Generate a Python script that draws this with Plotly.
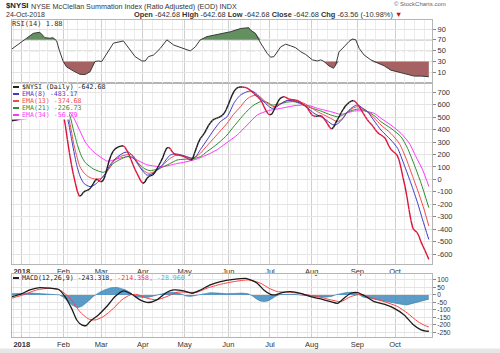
import pandas as pd
import plotly.graph_objects as go

# ---------------- data ----------------
HOLIDAYS = ["2017-12-25", "2018-01-01", "2018-01-15", "2018-02-19", "2018-03-30",
            "2018-05-28", "2018-07-04", "2018-09-03"]
START, END = "2017-12-22", "2018-10-24"

# $NYSI daily close, one value per trading day
PRICE = [
    470, 474, 478, 482, 487,
    492, 498, 504, 510, 516, 522, 528, 534, 540, 545, 550, 554, 558, 561, 564, 567, 570, 568, 562, 552, 540,
    525, 430, 320, 215, 120, 40, -30, -95, -135, -128, -105, -92, -88, -80, -62, -35, -8, 2, -12,
    -20, -8, 30, 90, 150, 195, 225, 245, 256, 263, 268, 271, 258, 232, 198, 160, 120, 82, 50, 18, -15,
    -32, -22, 8, 24, 30, 36, 55, 82, 112, 142, 175, 218, 252, 258, 242, 218, 202, 198, 196, 192, 188,
    182, 174, 164, 156, 162, 210, 255, 298, 330, 350, 372, 402, 432, 455, 474, 484, 490, 496, 505, 515, 532, 562,
    600, 640, 680, 710, 730, 740, 743, 743, 741, 738, 730, 718, 705, 690, 675, 660, 645, 620, 585, 553, 528,
    518, 526, 556, 590, 625, 650, 660, 665, 660, 650, 644, 641, 640, 637, 633, 624, 612, 600, 588, 571, 545,
    520, 510, 507, 509, 514, 510, 492, 470, 446, 420, 405, 418, 450, 480, 510, 540, 566, 590, 606, 620, 630, 634, 625,
    605, 585, 558, 530, 505, 480, 460, 444, 424, 400, 380, 366, 357, 345, 332, 300, 265, 240, 225,
    212, 195, 158, 90, 15, -55, -140, -240, -330, -395, -412, -425, -455, -500, -535, -570, -605, -642.68,
]

EMA8_X = [0, 8, 16, 22, 26, 28, 30, 32.6, 34.5, 36.5, 39.4, 42, 44.4, 47, 49.5, 52, 54.5, 56.5, 58.7, 60.5,
          62.1, 64, 65.5, 68, 70, 72.2, 74.5, 76.4, 78, 79.8, 82.3, 84.5, 86.5, 88.5, 90.7, 92.5, 95, 98.3,
          101.7, 105, 108.4, 110, 111.8, 113.5, 115.2, 118.5, 121, 123, 125.3, 128.6, 131.1, 133, 135.4,
          138.7, 142, 145.5, 149, 152.2, 157.2, 161.5, 163, 164.8, 167, 169.1, 172, 174.1, 176.5, 179.1,
          182.5, 185.9, 188.5, 190.9, 194.3, 197.6, 201, 204.4, 206.9, 210]
EMA8_Y = [476, 500, 535, 555, 555, 495, 330, 120, 20, -35, -58, -40, -5, 45, 116, 165, 196, 215, 220, 195,
          156, 110, 76, 35, 40, 62, 95, 129, 165, 196, 205, 200, 191, 180, 170, 180, 240, 317,
          397, 464, 504, 550, 612, 650, 679, 705, 710, 690, 652, 598, 571, 580, 606,
          635, 630, 612, 575, 531, 491, 440, 438, 456, 495, 545, 585, 598, 575, 545,
          470, 397, 355, 317, 250, 116, -31, -192, -326, -483.17]

EMA13_X = [0, 8, 16, 22, 26, 28, 30, 31, 32.5, 34.3, 36.5, 38.5, 40.5, 42.8, 45, 47.5, 51.2, 54, 57.1, 60.4,
           62.5, 64.6, 66.5, 68.9, 71.5, 74.7, 77, 79.8, 82, 84, 87.5, 90.8, 93, 95, 98, 101.7, 105, 108.4,
           111.5, 115.2, 118, 120.2, 123.6, 126, 128.6, 132, 134.5, 137, 140.4, 143.5, 147.1, 150.5, 153.9,
           157, 160.6, 164, 166.5, 169, 171.5, 174.1, 176.5, 179.1, 182.5, 185.9, 190.9, 195.1, 198.5,
           201.9, 205.2, 207.7, 210]
EMA13_Y = [476, 497, 528, 548, 552, 525, 390, 300, 200, 102, 50, 22, 8, 3, 8, 50, 143, 180, 196, 200,
           160, 102, 70, 49, 60, 89, 130, 170, 190, 196, 185, 170, 185, 210, 265, 330, 390, 451,
           520, 585, 640, 665, 679, 650, 612, 585, 600, 625, 638, 630, 612, 580, 545,
           520, 491, 464, 490, 540, 570, 585, 570, 545, 495, 437, 370, 290, 170,
           22, -125, -246, -374.68]

EMA21_X = [0, 8, 16, 22, 26, 28.7, 31, 33, 35, 37, 41.1, 46.1, 48.5, 51.2, 54.5, 57.9, 60.5, 62.5, 64.6, 67,
           69.7, 73, 76.4, 80, 83.2, 87, 90.8, 95, 98, 101.7, 105, 108.4, 111.5, 115.2, 118.5, 121.9, 126.1,
           128.5, 131.1, 133.5, 136.2, 139, 142.1, 145.5, 148.8, 152, 155.6, 160.6, 164, 166.5, 169, 172,
           174.9, 177.5, 180.8, 183.5, 185.9, 190.9, 196, 199.3, 202.7, 206.1, 210]
EMA21_Y = [474, 492, 518, 538, 545, 530, 400, 280, 190, 135, 84, 57, 80, 129, 160, 183, 180, 150, 116, 85,
           70, 82, 102, 130, 156, 162, 165, 183, 220, 263, 305, 357, 420, 491, 550, 598, 630,
           620, 598, 602, 612, 622, 625, 608, 585, 568, 550, 518, 504, 515, 540, 558,
           566, 555, 531, 500, 464, 411, 343, 250, 116, -31, -226.73]

EMA34_X = [0, 8, 16, 22, 26, 29.3, 31, 34.3, 37, 39.4, 42, 44.4, 47.8, 50, 52.8, 55.5, 58.7, 62, 65, 68,
           71.4, 74, 77, 80, 83, 86.5, 90, 93.3, 96.5, 100, 103.5, 106.7, 110, 113.5, 118.5, 123.6, 128.6,
           132, 135.4, 142.1, 147.1, 150.5, 153.9, 157.2, 160.6, 165.7, 169, 172.4, 177.5, 182.5, 185.9,
           190.9, 196, 200.2, 203.5, 206.9, 210]
EMA34_Y = [472, 488, 510, 528, 535, 535, 500, 390, 300, 250, 210, 183, 148, 150, 164, 175, 183, 165, 140, 118,
           108, 103, 105, 115, 127, 137, 150, 164, 185, 210, 240, 277, 315, 357, 437, 518, 550,
           562, 571, 592, 598, 590, 571, 558, 545, 523, 535, 550, 550, 531, 491,
           437, 370, 290, 183, 76, -56.79]

RSI_X = [0, 6.6, 10.8, 14.1, 16.7, 19.2, 20.7, 22.6, 23.9, 25.9, 27.6, 31, 34.3, 36.9, 39.4, 41.9, 43.6, 45.3,
         47.8, 51.2, 56.2, 58.7, 62.1, 65.5, 67.2, 68.8, 71.4, 74.7, 78.1, 81.5, 85.7, 89.9, 92.4, 94.9, 98.3,
         105.1, 110.1, 115.2, 119.3, 120.2, 122.7, 125.3, 128.6, 130.3, 132, 135.4, 137.9, 140.4, 142.9, 145.5,
         148, 151.4, 153.9, 155.6, 157.2, 159.7, 162, 163.1, 164.8, 167.3, 169.8, 171.6, 173.2, 174.9, 177.4,
         180.8, 184.2, 187.5, 190.9, 195.1, 199.3, 202.7, 206.1, 210]
RSI_Y = [53, 70, 82, 84, 74, 73, 74, 68, 51, 30, 20, 12.5, 6.4, 6, 11, 30, 31, 30,
         45, 64, 68, 55, 39, 31, 31, 39, 42, 54, 70, 60.5, 55.5, 49.5, 57, 70, 76,
         82, 85, 91, 92.5, 88, 82, 64, 45, 38, 39, 57, 62, 59, 55.5, 48,
         43, 33, 31, 33, 30, 22, 17.5, 23.5, 48, 57, 67, 71.6, 70, 54.4, 42,
         33, 27, 22, 14, 10, 5, 3, 3, 1.88]

MACD_X = [0, 4.2, 9.1, 14.1, 19.2, 23.4, 26.8, 30.1, 32.7, 35.2, 37.5, 39.4, 43.6, 47.8, 52, 56.2, 60.4, 64.6,
          68.8, 73, 78.1, 81.5, 86.5, 90.8, 95, 100, 105.1, 111.8, 117.7, 120.2, 123.6, 126.9, 130.3, 132.8,
          136.2, 140.4, 145.5, 150.5, 155.6, 160.6, 164, 167.3, 170.7, 174.1, 178.3, 182.5, 187.5, 192.6,
          197.6, 201.9, 206.1, 208.5, 210]
MACD_Y = [-11, 4, 33, 49, 45, 38, -11, -90, -168, -201, -205, -178, -134, -78, -11, 27, 4, -33,
          -51, -33, 18, 33, 27, 11, 33, 67, 89, 104, 111, 100, 78, 33, 4, 0,
          15, 22, 11, -11, -27, -45, -56, -22, 11, 15, -11, -45, -62, -90,
          -134, -196, -234, -242, -243.318]

SIGNAL_X = [0, 5.7, 12.5, 19.2, 24.2, 29.3, 34.3, 38.5, 41.9, 46.1, 51.2, 55.4, 59.6, 63, 68, 73, 78.1, 83.2,
            88.2, 93.3, 98.3, 105.1, 111.8, 119.3, 125.3, 129.5, 133.7, 140.4, 147.1, 153.9, 160.6, 165.7,
            170.7, 175.8, 180.8, 187.5, 194.3, 199.3, 204.4, 208, 210]
SIGNAL_Y = [-22, 0, 33, 45, 33, -22, -112, -160, -168, -145, -90, -33, 0, 3, -22, -33, -11, 18,
            18, 18, 45, 71, 89, 100, 78, 45, 22, 18, 4, -11, -33, -45,
            -11, 4, -18, -45, -78, -123, -178, -205, -214.358]

HIST_X = [0, 5, 10, 15, 20, 24, 26, 28, 30, 32, 33.5, 35.5, 37.5, 39.5, 41, 42.5, 44.5, 47, 50, 53, 55, 57,
          59.5, 61, 63, 66, 69, 72, 75, 78, 81, 84, 86, 88, 90, 92, 94, 97, 100, 104, 108, 112, 116, 119, 121,
          123, 125, 127, 129, 131, 133, 135, 138, 142, 146, 150, 154, 158, 161, 163, 165, 168, 171, 173, 175,
          177, 180, 183, 186, 190, 194, 197, 199, 202, 205, 208, 210]
HIST_Y = [8, 10, 12, 8, 5, 0, -15, -40, -65, -80, -85, -75, -55, -30, -10, 5, 20, 35, 48, 50, 45, 35,
          18, 0, -12, -18, -15, -5, 8, 15, 18, 12, 2, -8, -10, -5, 2, 10, 15, 12, 8, 10, 12, 8, -5,
          -25, -40, -45, -40, -25, -8, 2, 5, 4, -2, -8, -12, -15, -10, 0, 8, 15, 18, 12, 0,
          -15, -22, -30, -40, -50, -58, -65, -67, -55, -45, -35, -28.96]

MAIN_TICKS = [700, 600, 500, 400, 300, 200, 100, 0, -100, -200, -300, -400, -500, -600]
RSI_TICKS = [90, 70, 50, 30, 10]
MACD_TICKS = [100, 50, 0, -50, -100, -150, -200, -250]

# ---------------- calendar / axis ticks ----------------
days = pd.bdate_range(START, END)
days = days[~days.isin(pd.to_datetime(HOLIDAYS))]
idx = list(range(len(days)))
month_idx, month_txt = [], []
for i in range(1, len(days)):
    if days[i].month != days[i - 1].month:
        month_idx.append(i)
        month_txt.append("<b>2018</b>" if days[i].month == 1 else days[i].strftime("%b"))
iso = days.isocalendar()
week_idx = [i for i in range(1, len(days)) if iso.week.iloc[i] != iso.week.iloc[i - 1]]

W, H = 500, 353
def px(x): return x / W
def py(y): return 1 - y / H

UP, DOWN = "#1c1c1c", "#dc143c"
C8, C13, C21, C34 = "#3d3dc2", "#f04a4a", "#2e8b2e", "#ff33ff"

fig = go.Figure()

# ---- RSI panel ----
rsi_hi = [max(v, 70) for v in RSI_Y]
rsi_lo = [min(v, 30) for v in RSI_Y]
fig.add_trace(go.Scatter(x=RSI_X, y=[70] * len(RSI_X), xaxis="x2", yaxis="y2", mode="lines",
                         line=dict(width=0), hoverinfo="skip"))
fig.add_trace(go.Scatter(x=RSI_X, y=rsi_hi, xaxis="x2", yaxis="y2", mode="lines", fill="tonexty",
                         fillcolor="#62905f", line=dict(width=0), hoverinfo="skip"))
fig.add_trace(go.Scatter(x=RSI_X, y=[30] * len(RSI_X), xaxis="x2", yaxis="y2", mode="lines",
                         line=dict(width=0), hoverinfo="skip"))
fig.add_trace(go.Scatter(x=RSI_X, y=rsi_lo, xaxis="x2", yaxis="y2", mode="lines", fill="tonexty",
                         fillcolor="#a66262", line=dict(width=0), hoverinfo="skip"))
fig.add_trace(go.Scatter(x=RSI_X, y=RSI_Y, xaxis="x2", yaxis="y2", mode="lines",
                         line=dict(color="#3a3a3a", width=1)))

# ---- main panel ----
for xs, ys, c in [(EMA34_X, EMA34_Y, C34), (EMA21_X, EMA21_Y, C21),
                  (EMA13_X, EMA13_Y, C13), (EMA8_X, EMA8_Y, C8)]:
    fig.add_trace(go.Scatter(x=xs, y=ys, mode="lines", line=dict(color=c, width=1, shape="spline",
                                                                  smoothing=0.6)))
ux, uy, dx, dy = [], [], [], []
for i in range(1, len(PRICE)):
    if PRICE[i] >= PRICE[i - 1]:
        ux += [idx[i - 1], idx[i], None]; uy += [PRICE[i - 1], PRICE[i], None]
    else:
        dx += [idx[i - 1], idx[i], None]; dy += [PRICE[i - 1], PRICE[i], None]
fig.add_trace(go.Scatter(x=ux, y=uy, mode="lines", line=dict(color=UP, width=1.4)))
fig.add_trace(go.Scatter(x=dx, y=dy, mode="lines", line=dict(color=DOWN, width=1.4)))

# ---- MACD panel ----
fig.add_trace(go.Scatter(x=HIST_X, y=HIST_Y, xaxis="x3", yaxis="y3", mode="lines", fill="tozeroy",
                         fillcolor="rgba(62,140,190,0.85)", line=dict(color="#2f78a8", width=0.6)))
fig.add_trace(go.Scatter(x=SIGNAL_X, y=SIGNAL_Y, xaxis="x3", yaxis="y3", mode="lines",
                         line=dict(color="#ff4040", width=1, shape="spline", smoothing=0.6)))
fig.add_trace(go.Scatter(x=MACD_X, y=MACD_Y, xaxis="x3", yaxis="y3", mode="lines",
                         line=dict(color="#1c1c1c", width=1.3, shape="spline", smoothing=0.6)))

XR = [0.1, 211.6]
XD = [px(12), px(432)]
tickfont = dict(family="Liberation Sans", size=7.5, color="#333")
def xax(anchor, labels):
    return dict(domain=XD, range=XR, anchor=anchor, tickmode="array", tickvals=month_idx,
                ticktext=month_txt, showticklabels=labels, ticks="", showgrid=True,
                gridcolor="#cfcfcf", gridwidth=1, zeroline=False, showline=True, mirror=True,
                linecolor="#b5b5b5", linewidth=1, tickfont=tickfont,
                minor=dict(tickvals=week_idx, showgrid=True, gridcolor="#ececec", gridwidth=1))
def yax(anchor, dom, rng, vals, size=7.5):
    return dict(domain=dom, range=rng, anchor=anchor, side="right", tickmode="array", tickvals=vals,
                ticktext=[str(v) for v in vals], ticks="outside", ticklen=3, tickcolor="#888",
                showgrid=True, gridcolor="#e4e4e4", zeroline=False, showline=True, mirror=True,
                linecolor="#b5b5b5", linewidth=1,
                tickfont=dict(family="Liberation Sans", size=size, color="#333"))

layout = dict(
    width=W, height=H, margin=dict(l=0, r=0, t=0, b=0), paper_bgcolor="white",
    plot_bgcolor="white", showlegend=False,
    xaxis=xax("y", True), xaxis2=xax("y2", False), xaxis3=xax("y3", True),
    yaxis=yax("x", [py(263.5), py(82.5)], [-676, 779], MAIN_TICKS),
    yaxis2=yax("x2", [py(82.5), py(20)], [-8.8, 106.7], RSI_TICKS),
    yaxis3=yax("x3", [py(336.7), py(274)], [-279.8, 139.9], MACD_TICKS, size=6.6),
)
fig.update_layout(**layout)

shapes = []
# RSI reference lines
for lvl, dash in [(70, "solid"), (30, "solid"), (50, "dashdot")]:
    shapes.append(dict(type="line", xref="x2 domain", yref="y2", x0=0, x1=1, y0=lvl, y1=lvl,
                       line=dict(color="#9a9a9a", width=1, dash=dash), layer="below"))
# white box behind overlay legend
shapes.append(dict(type="rect", xref="paper", yref="paper", x0=px(12.5), x1=px(69), y0=py(119.5),
                   y1=py(83.5), fillcolor="white", line=dict(width=0), layer="above"))
# legend dashes
legend_rows = [("$NYSI (Daily) -642.68", "#222", 87), ("EMA(8) -483.17", C8, 94),
               ("EMA(13) -374.68", C13, 101), ("EMA(21) -226.73", C21, 108),
               ("EMA(34) -56.79", C34, 115)]
for txt, c, y in legend_rows:
    shapes.append(dict(type="line", xref="paper", yref="paper", x0=px(13), x1=px(19), y0=py(y), y1=py(y),
                       line=dict(color=c, width=2), layer="above"))
shapes.append(dict(type="line", xref="paper", yref="paper", x0=px(13), x1=px(19), y0=py(278), y1=py(278),
                   line=dict(color="#222", width=2), layer="above"))
# bottom gray strip
shapes.append(dict(type="rect", xref="paper", yref="paper", x0=0, x1=1, y0=0, y1=py(348.5),
                   fillcolor="#e6e6e6", line=dict(width=0), layer="below"))
fig.update_layout(shapes=shapes)

mono = "DejaVu Sans Mono"
ann = []
for txt, c, y in legend_rows:
    ann.append(dict(x=px(20), y=py(y), xref="paper", yref="paper", text=txt, showarrow=False,
                    xanchor="left", yanchor="middle", font=dict(family=mono, size=6.6, color=c)))
ann.append(dict(x=px(20), y=py(278), xref="paper", yref="paper", showarrow=False, xanchor="left",
                yanchor="middle", font=dict(family=mono, size=6.6, color="#222"),
                text="MACD(12,26,9) -243.318<span style='color:#ff3030'>, -214.358</span>"
                     "<span style='color:#55aadd'>, -28.960</span>"))
ann.append(dict(x=px(9.5), y=py(24), xref="paper", yref="paper", text="RSI(14) 1.88", showarrow=False,
                xanchor="left", yanchor="middle", font=dict(family=mono, size=7, color="#333")))
hdr = "Liberation Sans"
ann += [
    dict(x=px(3.5), y=py(6), text="<b>$NYSI</b>", font=dict(family=hdr, size=7.8, color="#222"),
         xanchor="left"),
    dict(x=px(28.5), y=py(6.3), text="NYSE McClellan Summation Index (Ratio Adjusted) (EOD) INDX",
         font=dict(family=hdr, size=7.2, color="#333"), xanchor="left"),
    dict(x=px(4), y=py(15), text="24-Oct-2018", font=dict(family=hdr, size=7, color="#333"),
         xanchor="left"),
    dict(x=px(404), y=py(15), xanchor="right", font=dict(family=hdr, size=7.4, color="#333"),
         text="<b>Open</b> -642.68 <b>High</b> -642.68 <b>Low</b> -642.68 <b>Close</b> -642.68 "
              "<b>Chg</b> -63.56 (-10.98%) <span style='color:#d01010'>▼</span>"),
    dict(x=px(448), y=py(4.5), xanchor="right", text="© StockCharts.com",
         font=dict(family=hdr, size=6, color="#666")),
]
for a in ann[-5:]:
    a.update(xref="paper", yref="paper", showarrow=False, yanchor="middle")
fig.update_layout(annotations=ann)

fig.write_html("out.html")
